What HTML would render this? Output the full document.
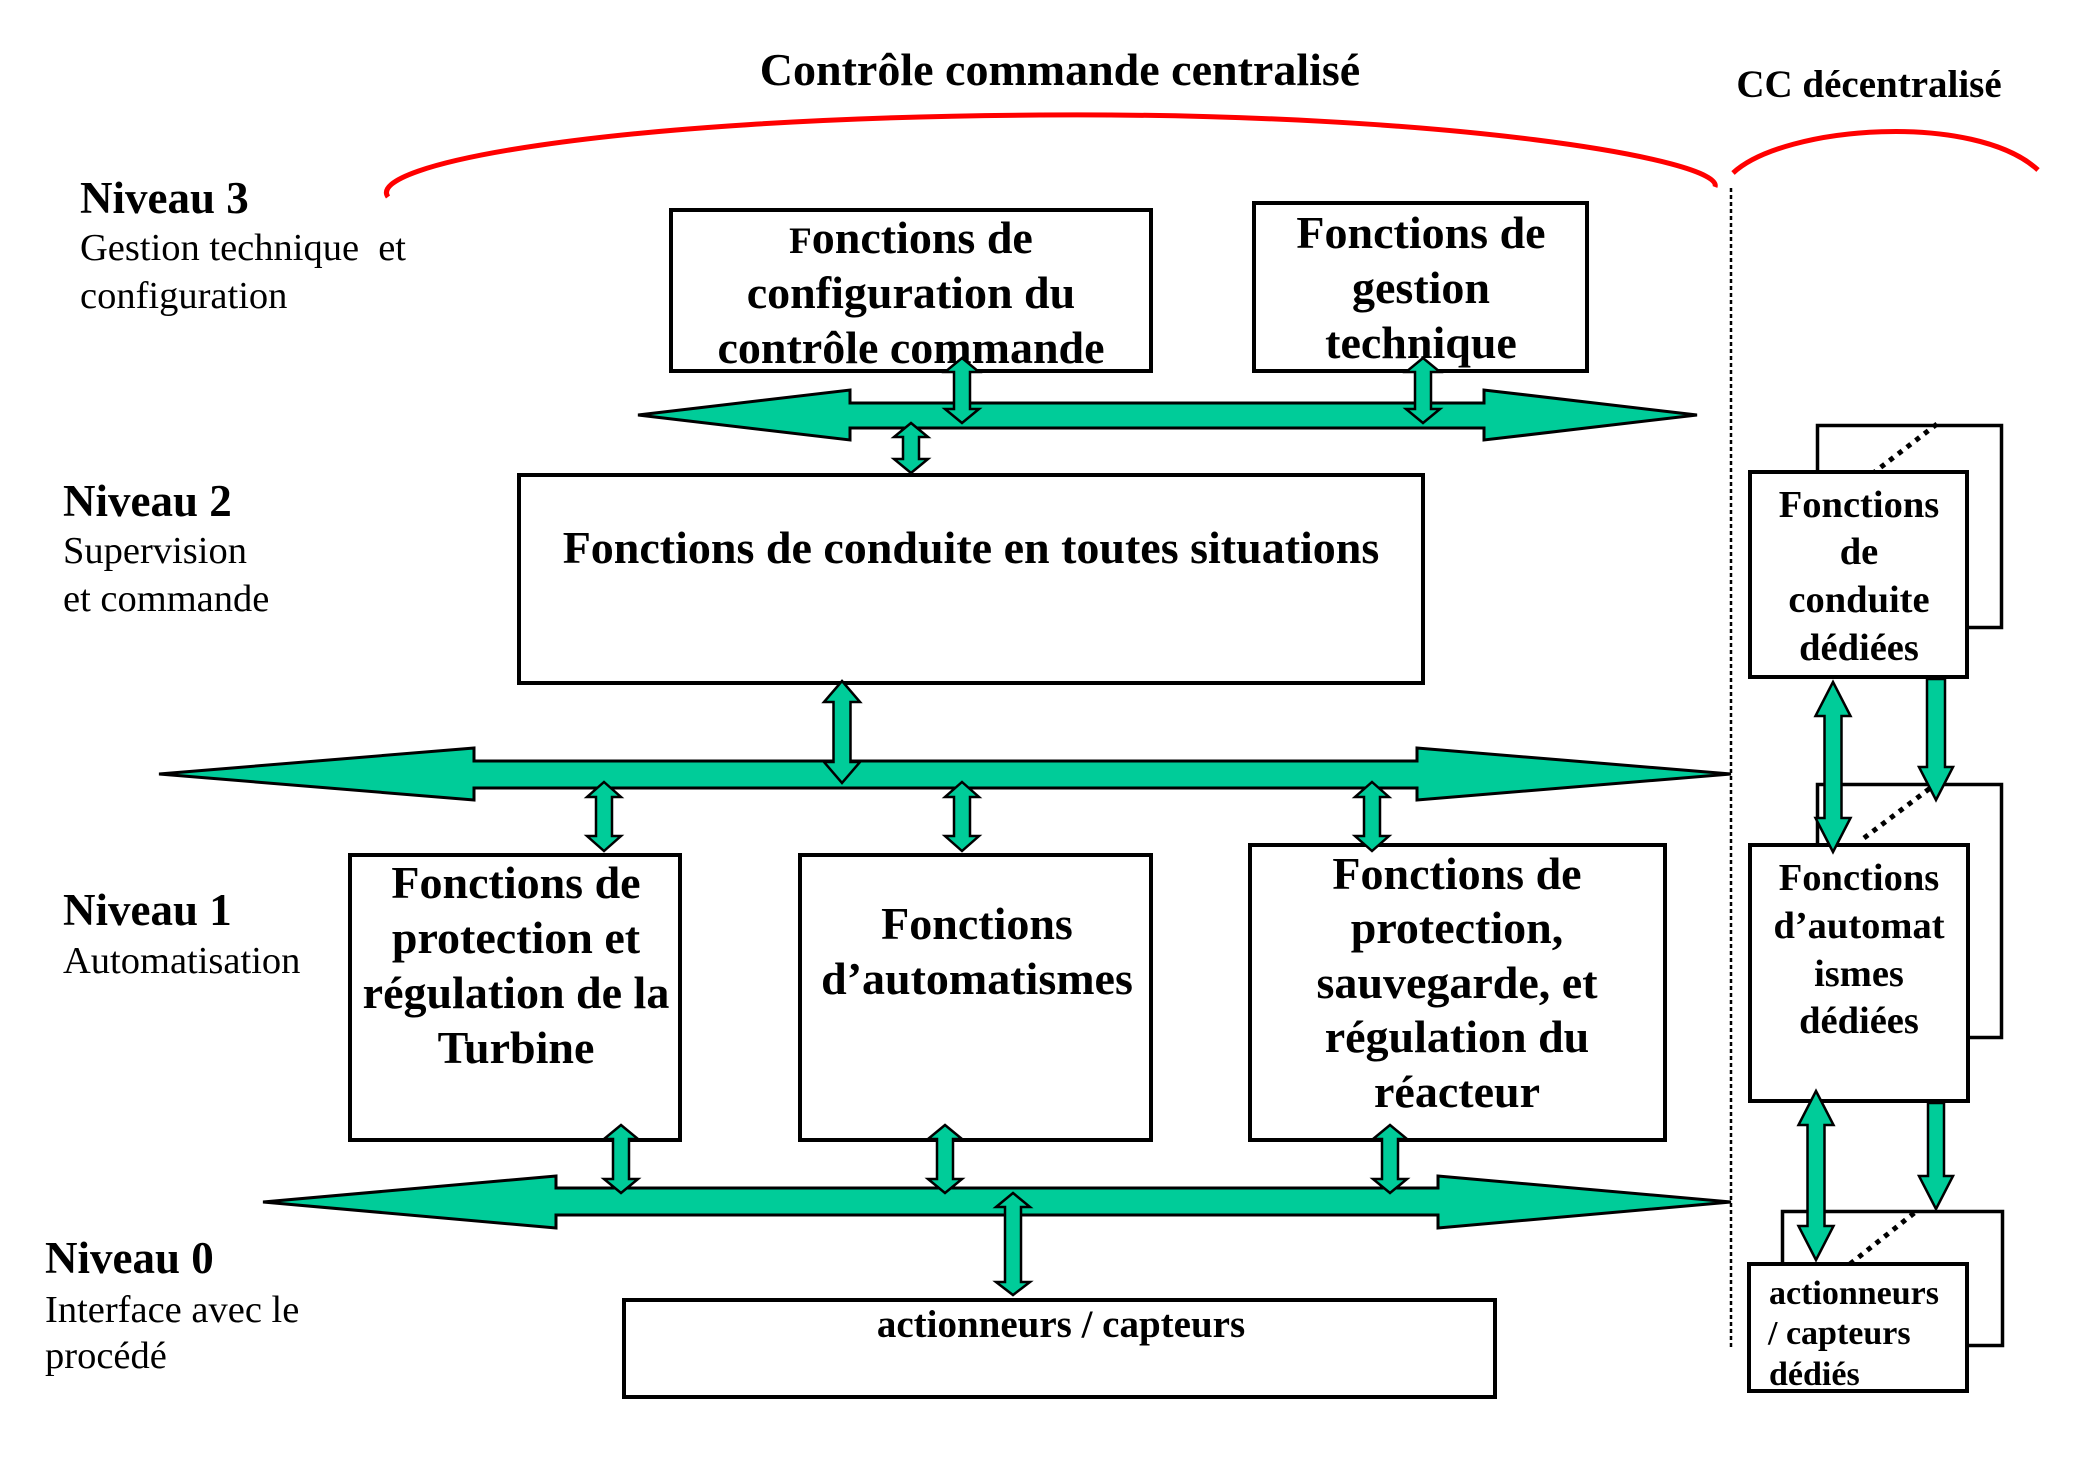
<!DOCTYPE html>
<html>
<head>
<meta charset="utf-8">
<style>
html,body{margin:0;padding:0;background:#fff;}
svg{display:block;}
text{font-family:"Liberation Serif","Times New Roman",serif;fill:#000;}
.b{font-weight:bold;}
</style>
</head>
<body>
<svg width="2079" height="1469" viewBox="0 0 2079 1469" xmlns="http://www.w3.org/2000/svg">
<rect x="0" y="0" width="2079" height="1469" fill="#fff"/>

<!-- Titles -->
<text class="b" x="1060" y="85" font-size="46" text-anchor="middle">Contrôle commande centralisé</text>
<text class="b" x="1869" y="97" font-size="39" text-anchor="middle">CC décentralisé</text>

<!-- Red arcs -->
<path d="M388,197 C365,165 600,118 1040,115 C1450,112 1725,160 1715,187" fill="none" stroke="#ff0000" stroke-width="5"/>
<path d="M1733,173 C1785,125 1975,112 2038,170" fill="none" stroke="#ff0000" stroke-width="5"/>

<!-- dotted separator -->
<line x1="1731" y1="188" x2="1731" y2="1347" stroke="#000" stroke-width="2.5" stroke-dasharray="4 3"/>

<!-- Level labels -->
<text class="b" x="80" y="213" font-size="45">Niveau 3</text>
<text x="80" y="260" font-size="38.5">Gestion technique</text>
<text x="406" y="260" font-size="38.5" text-anchor="end">et</text>
<text x="80" y="308" font-size="38.5">configuration</text>

<text class="b" x="63" y="516" font-size="45">Niveau 2</text>
<text x="63" y="563" font-size="38.5">Supervision</text>
<text x="63" y="611" font-size="38.5">et commande</text>

<text class="b" x="63" y="925" font-size="45">Niveau 1</text>
<text x="63" y="973" font-size="38.5">Automatisation</text>

<text class="b" x="45" y="1273" font-size="45">Niveau 0</text>
<text x="45" y="1322" font-size="38.5">Interface avec le</text>
<text x="45" y="1368" font-size="38.5">procédé</text>

<!-- Level 3 boxes -->
<rect x="671" y="210" width="480" height="161" fill="#fff" stroke="#000" stroke-width="4"/>
<text class="b" x="911" y="253" font-size="46" text-anchor="middle"><tspan font-size="37">F</tspan>onctions de</text>
<text class="b" x="911" y="308" font-size="46" text-anchor="middle">configuration du</text>
<text class="b" x="911" y="363" font-size="46" text-anchor="middle">contrôle commande</text>

<rect x="1254" y="203" width="333" height="168" fill="#fff" stroke="#000" stroke-width="4"/>
<text class="b" x="1421" y="248" font-size="46" text-anchor="middle">Fonctions de</text>
<text class="b" x="1421" y="303" font-size="46" text-anchor="middle">gestion</text>
<text class="b" x="1421" y="358" font-size="46" text-anchor="middle">technique</text>

<!-- Level 2 box -->
<rect x="519" y="475" width="904" height="208" fill="#fff" stroke="#000" stroke-width="4"/>
<text class="b" x="971" y="563" font-size="46" text-anchor="middle">Fonctions de conduite en toutes situations</text>

<!-- Level 1 boxes -->
<rect x="350" y="855" width="330" height="285" fill="#fff" stroke="#000" stroke-width="4"/>
<text class="b" x="516" y="898" font-size="46" text-anchor="middle">Fonctions de</text>
<text class="b" x="516" y="953" font-size="46" text-anchor="middle">protection et</text>
<text class="b" x="516" y="1008" font-size="46" text-anchor="middle">régulation de la</text>
<text class="b" x="516" y="1063" font-size="46" text-anchor="middle">Turbine</text>

<rect x="800" y="855" width="351" height="285" fill="#fff" stroke="#000" stroke-width="4"/>
<text class="b" x="977" y="939" font-size="46" text-anchor="middle">Fonctions</text>
<text class="b" x="977" y="994" font-size="46" text-anchor="middle">d’automatismes</text>

<rect x="1250" y="845" width="415" height="295" fill="#fff" stroke="#000" stroke-width="4"/>
<text class="b" x="1457" y="889" font-size="46" text-anchor="middle">Fonctions de</text>
<text class="b" x="1457" y="943" font-size="46" text-anchor="middle">protection,</text>
<text class="b" x="1457" y="998" font-size="46" text-anchor="middle">sauvegarde, et</text>
<text class="b" x="1457" y="1052" font-size="46" text-anchor="middle">régulation du</text>
<text class="b" x="1457" y="1107" font-size="46" text-anchor="middle">réacteur</text>

<!-- Level 0 box -->
<rect x="624" y="1300" width="871" height="97" fill="#fff" stroke="#000" stroke-width="4"/>
<text class="b" x="1061" y="1337" font-size="39" text-anchor="middle">actionneurs / capteurs</text>

<!-- Dedicated stacks -->
<rect x="1817.5" y="425.5" width="184" height="202" fill="#fff" stroke="#000" stroke-width="3.5"/>
<line x1="1872" y1="474" x2="1937" y2="424" stroke="#000" stroke-width="5" stroke-dasharray="5 6"/>
<rect x="1750" y="472" width="217" height="205" fill="#fff" stroke="#000" stroke-width="4"/>
<text class="b" x="1859" y="517" font-size="38.5" text-anchor="middle">Fonctions</text>
<text class="b" x="1859" y="564" font-size="38.5" text-anchor="middle">de</text>
<text class="b" x="1859" y="612" font-size="38.5" text-anchor="middle">conduite</text>
<text class="b" x="1859" y="660" font-size="38.5" text-anchor="middle">dédiées</text>

<rect x="1817.5" y="784.5" width="184" height="253" fill="#fff" stroke="#000" stroke-width="3.5"/>
<line x1="1864" y1="838" x2="1937" y2="783" stroke="#000" stroke-width="5" stroke-dasharray="5 6"/>
<rect x="1750" y="845" width="218" height="256" fill="#fff" stroke="#000" stroke-width="4"/>
<text class="b" x="1859" y="890" font-size="38.5" text-anchor="middle">Fonctions</text>
<text class="b" x="1859" y="938" font-size="38.5" text-anchor="middle">d’automat</text>
<text class="b" x="1859" y="986" font-size="38.5" text-anchor="middle">ismes</text>
<text class="b" x="1859" y="1033" font-size="38.5" text-anchor="middle">dédiées</text>

<rect x="1782.5" y="1211.5" width="220" height="134" fill="#fff" stroke="#000" stroke-width="3.5"/>
<line x1="1850" y1="1264" x2="1918" y2="1210" stroke="#000" stroke-width="5" stroke-dasharray="5 6"/>
<rect x="1749" y="1264" width="218" height="127" fill="#fff" stroke="#000" stroke-width="4"/>
<text class="b" x="1769" y="1304" font-size="34">actionneurs</text>
<text class="b" x="1768" y="1344" font-size="34">/ capteurs</text>
<text class="b" x="1769" y="1385" font-size="34">dédiés</text>

<!-- Buses -->
<g fill="#00CC99" stroke="#000" stroke-width="3" stroke-linejoin="miter">
<polygon points="638,415 850,390 850,403 1484,403 1484,390 1697,415 1484,440 1484,428 850,428 850,440"/>
<polygon points="159,774 474,748 474,761 1417,761 1417,748 1731,774 1417,800 1417,788 474,788 474,800"/>
<polygon points="263,1202 556,1176 556,1188 1438,1188 1438,1176 1731,1202 1438,1228 1438,1215 556,1215 556,1228"/>
</g>

<!-- Small double arrows -->
<g fill="#00CC99" stroke="#000" stroke-width="2.5" stroke-linejoin="miter">
<polygon points="962,358 979,372 970,372 970,409 979,409 962,423 945,409 954,409 954,372 945,372"/>
<polygon points="1423,358 1440,372 1431,372 1431,409 1440,409 1423,423 1406,409 1415,409 1415,372 1406,372"/>
<polygon points="911,423 928,437 919,437 919,459 928,459 911,473 894,459 903,459 903,437 894,437"/>
<polygon points="842,681 860,702 850.5,702 850.5,762 860,762 842,783 824,762 833.5,762 833.5,702 824,702"/>
<polygon points="604,782 621,797 612,797 612,836 621,836 604,851 587,836 596,836 596,797 587,797"/>
<polygon points="962,782 979,797 970,797 970,836 979,836 962,851 945,836 954,836 954,797 945,797"/>
<polygon points="1372,782 1389,797 1380,797 1380,836 1389,836 1372,851 1355,836 1364,836 1364,797 1355,797"/>
<polygon points="621,1125 638,1139 629,1139 629,1179 638,1179 621,1193 604,1179 613,1179 613,1139 604,1139"/>
<polygon points="945,1125 962,1139 953,1139 953,1179 962,1179 945,1193 928,1179 937,1179 937,1139 928,1139"/>
<polygon points="1390,1125 1407,1139 1398,1139 1398,1179 1407,1179 1390,1193 1373,1179 1382,1179 1382,1139 1373,1139"/>
<polygon points="1013,1193 1030,1207 1021,1207 1021,1282 1030,1282 1013,1295 996,1282 1005,1282 1005,1207 996,1207"/>
<!-- dedicated -->
<polygon points="1833,682 1850.5,716 1841.5,716 1841.5,818 1850.5,818 1833,852 1815.5,818 1824.5,818 1824.5,716 1815.5,716"/>
<polygon points="1927,679 1945,679 1945,767 1953,767 1936,800 1919,767 1927,767"/>
<polygon points="1816,1091 1833.5,1125 1824.5,1125 1824.5,1226 1833.5,1226 1816,1260 1798.5,1226 1807.5,1226 1807.5,1125 1798.5,1125"/>
<polygon points="1928,1103 1944,1103 1944,1176 1953,1176 1936,1209 1919,1176 1928,1176"/>
</g>
</svg>
</body>
</html>
